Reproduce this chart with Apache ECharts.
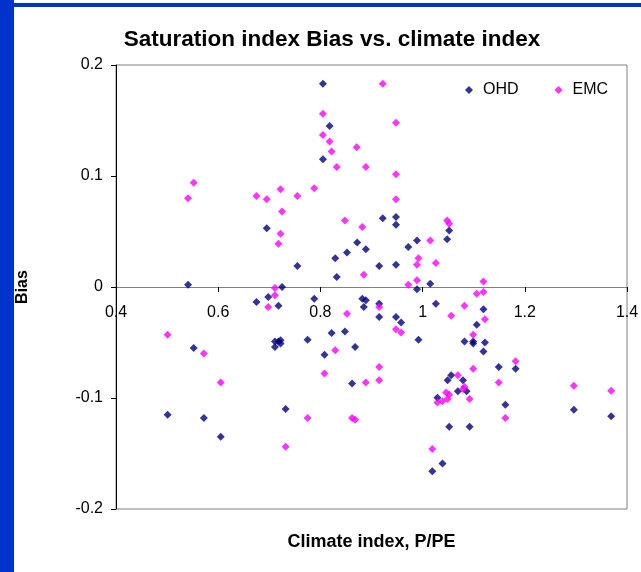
<!DOCTYPE html>
<html>
<head>
<meta charset="utf-8">
<script src="https://cdn.jsdelivr.net/npm/echarts@6/dist/echarts.min.js"></script>
<style>
html,body{margin:0;padding:0;background:#fff;}
#chart{width:641px;height:572px;}
</style>
</head>
<body>
<div id="chart"></div>
<script>
// ---- Data ----
var seriesNames = ['OHD', 'EMC'];
var titleText = 'Saturation index Bias vs. climate index';
var xAxisName = 'Climate index, P/PE';
var yAxisName = 'Bias';

var ohdX = [0.541,0.805,0.818,0.805,0.695,0.872,0.889,0.852,0.829,0.755,0.832,0.725,
  0.922,0.948,0.948,0.972,0.989,1.052,1.048,0.915,0.948,1.015,0.989,0.698,0.675,0.718,
  0.788,0.882,0.889,0.885,0.822,0.848,0.552,0.711,0.722,0.722,0.711,0.718,0.775,0.808,
  0.868,0.862,0.501,0.572,0.732,0.605,0.915,0.915,1.026,1.119,0.948,0.958,1.106,0.992,
  1.082,1.099,1.099,1.122,1.119,1.149,1.182,1.056,1.049,1.079,1.069,1.086,1.029,1.162,
  1.052,1.092,1.296,1.369,1.039,1.019];
var ohdY = [0.002,0.183,0.145,0.115,0.053,0.040,0.034,0.031,0.026,0.019,0.009,0.000,
  0.062,0.063,0.056,0.036,0.042,0.051,0.043,0.019,0.020,0.003,-0.002,-0.009,-0.0135,-0.017,
  -0.0105,-0.0105,-0.012,-0.018,-0.0415,-0.040,-0.055,-0.049,-0.048,-0.051,-0.054,-0.049,-0.0475,-0.061,
  -0.054,-0.087,-0.115,-0.118,-0.110,-0.135,-0.015,-0.027,-0.015,-0.020,-0.027,-0.032,-0.034,-0.0475,
  -0.049,-0.049,-0.051,-0.050,-0.058,-0.072,-0.0736,-0.0795,-0.084,-0.084,-0.094,-0.094,-0.0997,-0.106,
  -0.126,-0.126,-0.1105,-0.1165,-0.159,-0.166];

var emcX = [0.541,0.552,0.805,0.805,0.818,0.822,0.832,0.871,0.889,0.675,0.695,0.722,
  0.755,0.788,0.725,0.722,0.718,0.848,0.882,0.885,0.711,0.922,0.948,0.948,0.948,1.015,
  1.048,1.052,0.992,0.989,1.026,0.989,0.972,1.119,0.711,0.698,0.852,0.501,0.572,0.829,
  0.808,0.605,0.889,0.775,0.862,0.868,0.732,1.119,1.106,0.915,1.082,1.056,1.122,0.948,
  0.958,1.099,0.915,0.915,1.099,1.182,1.149,1.069,1.082,1.079,1.092,1.046,1.052,1.029,
  1.039,1.049,1.162,1.296,1.369,1.019];
var emcY = [0.080,0.094,0.156,0.137,0.131,0.122,0.108,0.126,0.108,0.082,0.079,0.088,
  0.082,0.089,0.068,0.048,0.039,0.060,0.054,0.011,-0.001,0.183,0.148,0.1015,0.079,0.042,
  0.060,0.057,0.026,0.020,0.0216,0.006,0.002,0.005,-0.0075,-0.018,-0.024,-0.043,-0.060,-0.057,
  -0.078,-0.086,-0.086,-0.118,-0.118,-0.1195,-0.144,-0.0045,-0.006,-0.018,-0.017,-0.026,-0.029,-0.038,
  -0.041,-0.043,-0.072,-0.084,-0.0736,-0.067,-0.086,-0.0795,-0.090,-0.092,-0.101,-0.095,-0.097,-0.104,
  -0.103,-0.101,-0.118,-0.089,-0.0934,-0.146];

var xMin = 0.4, xMax = 1.4, xStep = 0.2;
var yMin = -0.2, yMax = 0.2, yStep = 0.1;

function pairs(xs, ys){ var out=[]; for (var i=0;i<xs.length;i++) out.push([xs[i], ys[i]]); return out; }

var FONT = 'Liberation Sans, Arial, sans-serif';
var GRID_H = 444;
// move the x axis (line, ticks, labels, name) up from the bottom edge to y = 0
var xAxisOffset = -GRID_H * (0 - yMin) / (yMax - yMin);

var chart = echarts.init(document.getElementById('chart'), null, {renderer:'canvas'});
chart.setOption({
  animation: false,
  backgroundColor: '#ffffff',
  color: ['#000080', '#ff00ff'],
  graphic: [
    {type:'rect', left:0, top:0, shape:{width:14, height:572}, style:{fill:'#0033cc'}, silent:true},
    {type:'rect', left:14, top:3, shape:{width:627, height:4}, style:{fill:'#0033cc'}, silent:true}
  ],
  title: {
    text: titleText,
    left: 327, top: 23, textAlign: 'center',
    textStyle: {fontFamily: FONT, fontSize: 22.5, fontWeight: 'bold', color: '#000'}
  },
  legend: {
    data: seriesNames,
    left: 460, top: 77,
    icon: 'diamond',
    itemWidth: 8, itemHeight: 8,
    itemGap: 36,
    textStyle: {fontFamily: FONT, fontSize: 16, color: '#000', padding:[0,0,0,5]}
  },
  grid: {
    left: 116, top: 65, width: 511, height: GRID_H,
    containLabel: false, outerBoundsMode: 'none',
    show: true, borderColor: '#808080', borderWidth: 1, backgroundColor: '#fff'
  },
  xAxis: {
    type: 'value', min: xMin, max: xMax, interval: xStep,
    position: 'bottom', offset: xAxisOffset,
    name: xAxisName, nameLocation: 'middle', nameGap: 246,
    nameTextStyle: {fontFamily: FONT, fontSize: 18, fontWeight: 'bold', color: '#000'},
    axisLine: {show: true, onZero: false, lineStyle: {color: '#808080', width: 1}},
    axisTick: {show: true, length: 5, lineStyle: {color: '#000'}},
    axisLabel: {fontFamily: FONT, fontSize: 16, color: '#000', margin: 18, showMaxLabel: true, showMinLabel: true, hideOverlap: false},
    splitLine: {show: false}
  },
  yAxis: {
    type: 'value', min: yMin, max: yMax, interval: yStep,
    name: yAxisName, nameLocation: 'middle', nameGap: 85, nameRotate: 90,
    nameTextStyle: {fontFamily: FONT, fontSize: 16, fontWeight: 'bold', color: '#000'},
    axisLine: {show: true, onZero: false, lineStyle: {color: '#000', width: 1}},
    axisTick: {show: true, length: 5, lineStyle: {color: '#000'}},
    axisLabel: {fontFamily: FONT, fontSize: 16, color: '#000', margin: 13},
    splitLine: {show: false}
  },
  series: [
    {name: seriesNames[0], type: 'scatter', symbol: 'diamond', symbolSize: 8,
     itemStyle: {color: '#000080'}, data: pairs(ohdX, ohdY)},
    {name: seriesNames[1], type: 'scatter', symbol: 'diamond', symbolSize: 8,
     itemStyle: {color: '#ff00ff'}, data: pairs(emcX, emcY)}
  ]
});
</script>
</body>
</html>
